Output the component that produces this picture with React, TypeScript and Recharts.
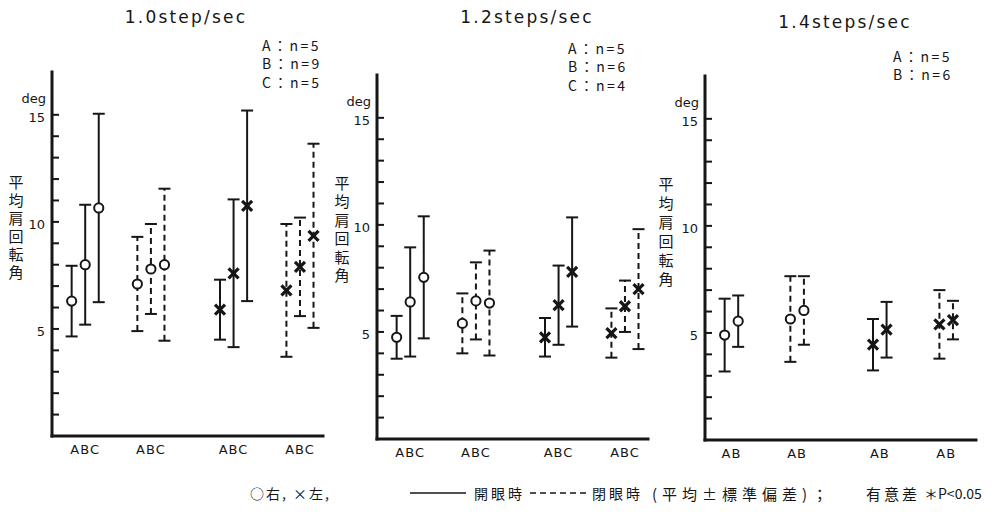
import React from 'react';
import { ScatterChart, Scatter, XAxis, YAxis, ErrorBar } from 'recharts';

// 歩行速度ごとのパネル
const speeds = ['1.0step/sec', '1.2steps/sec', '1.4steps/sec'];

// 被験者 / n数
const subjects10 = ['A', 'B', 'C'];
const subjects12 = ['A', 'B', 'C'];
const subjects14 = ['A', 'B'];
const counts10 = ['A：n=5', 'B：n=9', 'C：n=5'];
const counts12 = ['A：n=5', 'B：n=6', 'C：n=4'];
const counts14 = ['A：n=5', 'B：n=6'];

// 条件（右/左 × 開眼時/閉眼時）
const conditions = ['右・開眼時', '右・閉眼時', '左・開眼時', '左・閉眼時'];

// 平均肩回転角 (deg) と標準偏差, [条件][被験者]
const mean10 = [[6.3, 8.0, 10.65], [7.1, 7.8, 8.0], [5.9, 7.6, 10.75], [6.8, 7.9, 9.35]];
const sd10 = [[1.65, 2.8, 4.4], [2.2, 2.1, 3.55], [1.4, 3.45, 4.45], [3.1, 2.3, 4.3]];
const mean12 = [[4.75, 6.4, 7.55], [5.4, 6.45, 6.35], [4.75, 6.25, 7.8], [4.95, 6.2, 7.0]];
const sd12 = [[1.0, 2.55, 2.85], [1.4, 1.8, 2.45], [0.9, 1.85, 2.55], [1.15, 1.2, 2.8]];
const mean14 = [[4.9, 5.55], [5.65, 6.05], [4.45, 5.15], [5.4, 5.6]];
const sd14 = [[1.7, 1.2], [2.0, 1.6], [1.2, 1.3], [1.6, 0.9]];

const yTicks = [1, 2, 3, 4, 5, 6, 7, 8, 9, 10, 11, 12, 13, 14, 15];
const yLabels = [5, 10, 15];
const yUnit = 'deg';
const yTitle = '平均肩回転角';

const legendMarks = '○右, ×左,';
const legendLines = ['開眼時', '閉眼時'];
const legendNote = ['(平均±標準偏差)；', '有意差', '＊P<0.05'];

const INK = '#161616';
const FONT = '"Noto Sans CJK JP", "DejaVu Sans", sans-serif';
const LATIN = '"DejaVu Sans", sans-serif';

// layout
const PLOT_W = 271;
const PLOT_H = 364;
const Y_W = 50;
const X_H = 30;
const MARGIN = { top: 10, right: 10, bottom: 10, left: 0 };
const GROUP_START = [1.45, 6.3, 12.4, 17.3];
const LEGEND_Y = 493;

const panels = [
  { title: speeds[0], subjects: subjects10, counts: counts10, means: mean10, sds: sd10,
    plotLeft: 52, plotBottom: 436, titleX: 186, titleY: 17, countX: 262, countY: 45, labelX: 16, labelY: 182, labelStep: 18 },
  { title: speeds[1], subjects: subjects12, counts: counts12, means: mean12, sds: sd12,
    plotLeft: 377, plotBottom: 439, titleX: 527, titleY: 17, countX: 568, countY: 48, labelX: 342, labelY: 183, labelStep: 18.5 },
  { title: speeds[2], subjects: subjects14, counts: counts14, means: mean14, sds: sd14,
    plotLeft: 705, plotBottom: 440, titleX: 845, titleY: 22, countX: 893, countY: 56, labelX: 666, labelY: 183, labelStep: 19 },
];

const Ring = (p: any) => <circle cx={p.cx} cy={p.cy} r={4.6} fill="#fff" stroke={INK} strokeWidth={2} />;

const Cross = (p: any) => (
  <g stroke={INK} strokeWidth={3.2}>
    <line x1={p.cx - 5} y1={p.cy - 5} x2={p.cx + 5} y2={p.cy + 5} />
    <line x1={p.cx - 5} y1={p.cy + 5} x2={p.cx + 5} y2={p.cy - 5} />
  </g>
);

const Cap = (p: any) => <line x1={p.cx - 6} x2={p.cx + 6} y1={p.cy} y2={p.cy} stroke={INK} strokeWidth={2} />;

function YTick(props: any) {
  const { x, y, payload } = props;
  const v = payload.value;
  return (
    <g fontFamily={LATIN}>
      <line x1={x} x2={x + 7} y1={y} y2={y} stroke={INK} strokeWidth={2} />
      {yLabels.includes(v) && (
        <text x={x - 7} y={y + 7} textAnchor="end" fontSize={13} fill={INK}>{v}</text>
      )}
      {v === yLabels[yLabels.length - 1] && (
        <text x={x - 6} y={y - 12} textAnchor="end" fontSize={13} fill={INK}>{yUnit}</text>
      )}
    </g>
  );
}

function Panel({ cfg }: { cfg: (typeof panels)[number] }) {
  const series = conditions.map((c, g) => ({
    name: c,
    left: c.startsWith('左'),
    closed: c.includes('閉眼'),
    rows: cfg.means[g].map((m, i) => ({ x: GROUP_START[g] + i, y: m, sd: cfg.sds[g][i] })),
  }));
  const caps = series.flatMap((s) => s.rows.flatMap((r) => [{ x: r.x, y: r.y + r.sd }, { x: r.x, y: r.y - r.sd }]));
  const centers = GROUP_START.map((s) => s + (cfg.subjects.length - 1) / 2);
  const axisLine = { stroke: INK, strokeWidth: 3, strokeLinecap: 'square' as const };

  return (
    <div style={{ position: 'absolute', left: cfg.plotLeft - Y_W, top: cfg.plotBottom - PLOT_H - MARGIN.top }}>
      <ScatterChart width={Y_W + PLOT_W + MARGIN.right} height={MARGIN.top + PLOT_H + X_H + MARGIN.bottom} margin={MARGIN}>
        <XAxis
          type="number"
          dataKey="x"
          domain={[0, 20]}
          ticks={centers}
          interval={0}
          tickFormatter={() => cfg.subjects.join('')}
          tickLine={false}
          tickMargin={3}
          height={X_H}
          axisLine={axisLine}
          tick={{ fill: INK, fontSize: 13, letterSpacing: 1, fontFamily: LATIN }}
          allowDataOverflow
        />
        <YAxis
          type="number"
          dataKey="y"
          domain={[0, 17]}
          ticks={yTicks}
          interval={0}
          width={Y_W}
          tickSize={0}
          tickMargin={0}
          tickLine={false}
          tick={(p: any) => <YTick {...p} />}
          axisLine={axisLine}
          allowDataOverflow
        />
        <Scatter data={caps} shape={Cap} isAnimationActive={false} />
        {series.map((s) => (
          <Scatter key={s.name} name={s.name} data={s.rows} shape={s.left ? Cross : Ring} isAnimationActive={false}>
            <ErrorBar
              dataKey="sd"
              direction="y"
              width={0}
              stroke={INK}
              strokeWidth={2}
              strokeDasharray={s.closed ? '6 4' : undefined}
              isAnimationActive={false}
            />
          </Scatter>
        ))}
      </ScatterChart>
    </div>
  );
}

const abs = (left: number, top: number, extra: React.CSSProperties = {}): React.CSSProperties => ({
  position: 'absolute',
  left,
  top,
  lineHeight: 1,
  whiteSpace: 'nowrap',
  ...extra,
});

const legendText = (left: number, text: string, spacing = 3, size = 14) => (
  <div style={abs(left, LEGEND_Y, { fontSize: size, letterSpacing: spacing, transform: 'translateY(-50%)' })}>{text}</div>
);

export default function App() {
  return (
    <div style={{ position: 'absolute', left: 0, top: 0, width: 994, height: 518, background: '#fff', overflow: 'hidden', fontFamily: FONT, color: INK }}>
      {panels.map((cfg) => (
        <React.Fragment key={cfg.title}>
          <Panel cfg={cfg} />
          <div style={abs(cfg.titleX, cfg.titleY, { fontSize: 17, letterSpacing: 2.2, fontFamily: LATIN, transform: 'translate(-50%, -50%)' })}>
            {cfg.title}
          </div>
          <div style={abs(cfg.countX, cfg.countY - 9.25, { fontSize: 14, letterSpacing: 2.5, lineHeight: '18.5px', whiteSpace: 'pre' })}>
            {cfg.counts.join('\n')}
          </div>
          <div
            style={abs(cfg.labelX - 9, cfg.labelY - cfg.labelStep / 2, {
              width: 18,
              fontSize: 15,
              textAlign: 'center',
              lineHeight: `${cfg.labelStep}px`,
              whiteSpace: 'pre',
            })}
          >
            {Array.from(yTitle).join('\n')}
          </div>
        </React.Fragment>
      ))}

      {legendText(250, legendMarks, 2)}
      <svg style={{ position: 'absolute', left: 410, top: LEGEND_Y - 6 }} width={56} height={12}>
        <line x1={0} x2={56} y1={6} y2={6} stroke={INK} strokeWidth={1.5} />
      </svg>
      {legendText(474, legendLines[0])}
      <svg style={{ position: 'absolute', left: 530, top: LEGEND_Y - 6 }} width={56} height={12}>
        <line x1={0} x2={56} y1={6} y2={6} stroke={INK} strokeWidth={1.5} strokeDasharray="6 4" />
      </svg>
      {legendText(592, legendLines[1])}
      {legendText(652, legendNote[0], 5, 15)}
      {legendText(866, legendNote[1], 3, 15)}
      {legendText(924, legendNote[2], 0)}
    </div>
  );
}
